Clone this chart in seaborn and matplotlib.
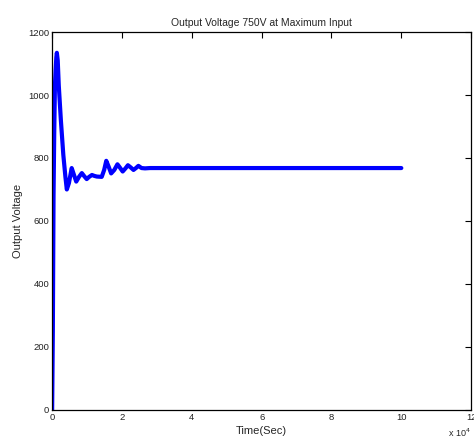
import numpy as np
import pandas as pd
import matplotlib
matplotlib.use("Agg")
import matplotlib.pyplot as plt
import seaborn as sns

# time in units of 1e4 s, voltage in V
time_x1e4 = [0.0, 0.02, 0.04, 0.06, 0.08, 0.10, 0.12, 0.135, 0.16, 0.19, 0.25,
             0.32, 0.38, 0.42, 0.48, 0.56, 0.62, 0.69, 0.77, 0.85, 0.92,
             0.99, 1.06, 1.14, 1.21, 1.28, 1.42, 1.49, 1.55, 1.62, 1.69,
             1.78, 1.87, 1.95, 2.02, 2.10, 2.17, 2.25, 2.33, 2.40, 2.47,
             2.56, 2.66, 2.80, 3.5, 5.0, 7.0, 9.0, 10.0]
voltage = [0, 250, 680, 880, 1030, 1080, 1120, 1134, 1110, 1030, 920,
           810, 740, 700, 720, 768, 748, 725, 740, 752, 742,
           733, 740, 746, 743, 741, 740, 762, 791, 772, 751,
           762, 780, 768, 757, 767, 777, 770, 762, 768, 775,
           768, 767, 768, 768, 768, 768, 768, 768]

df = pd.DataFrame({"t": time_x1e4, "v": voltage})

sns.set_style("white")
plt.rcParams["font.family"] = ["Liberation Sans", "DejaVu Sans"]

fig = plt.figure(figsize=(4.74, 4.45), dpi=100)
ax = fig.add_axes([0.110, 0.079, 0.884, 0.849])

sns.lineplot(data=df, x="t", y="v", ax=ax, color="#0000ff", lw=3.0, sort=False)

ax.set_xlim(0, 12)
ax.set_ylim(0, 1200)
ax.set_xticks(range(0, 13, 2))
ax.set_yticks(range(0, 1201, 200))
ax.tick_params(direction="in", length=4, width=0.8, labelsize=6.8,
               top=True, right=True, colors="black", labelcolor="#222222", pad=2)
for sp in ax.spines.values():
    sp.set_visible(True)
    sp.set_color("black")
    sp.set_linewidth(0.9)

ax.set_title("Output Voltage 750V at Maximum Input", fontsize=7.5, pad=4)
ax.set_xlabel("Time(Sec)", fontsize=8, labelpad=3)
ax.set_ylabel("Output Voltage", fontsize=8, labelpad=4)
ax.text(1.0, -0.045, "x 10$^4$", transform=ax.transAxes, fontsize=6.5,
        ha="right", va="top")

fig.savefig("out.png", dpi=100)
